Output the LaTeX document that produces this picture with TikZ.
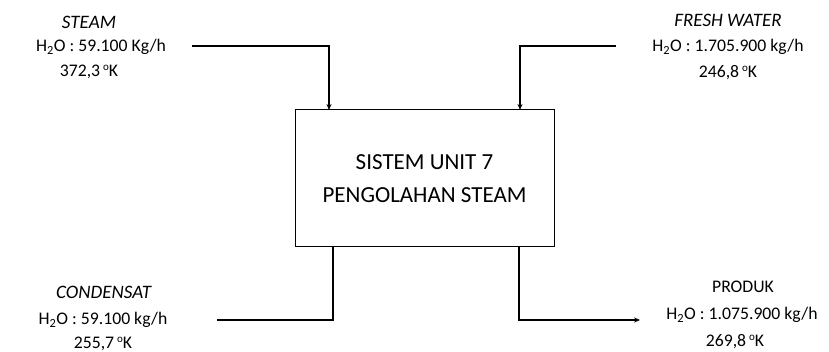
\documentclass[tikz,border=0pt]{standalone}
\usepackage{fontspec}
\setmainfont{Carlito}
\usetikzlibrary{arrows.meta}
\newcommand{\degK}{\,\raisebox{0.75ex}{\fontsize{11}{11}\selectfont o}K}
\begin{document}
\begin{tikzpicture}[x=1pt,y=-1pt,
  lbl/.style={inner sep=0pt,anchor=center,font=\fontsize{17.7}{20}\selectfont},
  boxtxt/.style={font=\fontsize{23}{33}\selectfont,align=center},
  flow/.style={line width=1.3pt,black},
  arr/.style={flow,-{Stealth[length=6pt,width=5pt]}}]
\useasboundingbox (0,0) rectangle (829,352);
% main box
\node[draw,line width=1pt,minimum width=259pt,minimum height=137pt,boxtxt] (box) at (424.5,178.5)
  {SISTEM UNIT 7\\PENGOLAHAN STEAM};
% connector points
\coordinate (s1) at (192,46);
\coordinate (s2) at (329,110);
\coordinate (f1) at (616,46);
\coordinate (f2) at (520,110);
\coordinate (c1) at (333,247);
\coordinate (c2) at (217,320);
\coordinate (p1) at (519,247);
\coordinate (p2) at (640,320);
\draw[arr] (s1) -| (s2);
\draw[arr] (f1) -| (f2);
\draw[flow] (c1) |- (c2);
\draw[arr] (p1) |- (p2);
% STEAM
\node[lbl,font=\fontsize{19}{20}\selectfont] (st1) at (89,22) {\textit{STEAM}};
\node[lbl] (st2) at (101,47) {H\textsubscript{2}O : 59.100 Kg/h};
\node[lbl] (st3) at (89,72) {372,3\degK};
% FRESH WATER
\node[lbl,font=\fontsize{19}{20}\selectfont] (fw1) at (728,20) {\textit{FRESH WATER}};
\node[lbl] (fw2) at (728,47) {H\textsubscript{2}O : 1.705.900 kg/h};
\node[lbl] (fw3) at (728,73) {246,8\degK};
% CONDENSAT
\node[lbl,font=\fontsize{19}{20}\selectfont] (cd1) at (104,292) {\textit{CONDENSAT}};
\node[lbl] (cd2) at (103,320) {H\textsubscript{2}O : 59.100 kg/h};
\node[lbl] (cd3) at (103,344) {255,7\degK};
% PRODUK
\node[lbl] (pr1) at (743,287) {PRODUK};
\node[lbl] (pr2) at (742,315) {H\textsubscript{2}O : 1.075.900 kg/h};
\node[lbl] (pr3) at (735,342) {269,8\degK};
\end{tikzpicture}
\end{document}
